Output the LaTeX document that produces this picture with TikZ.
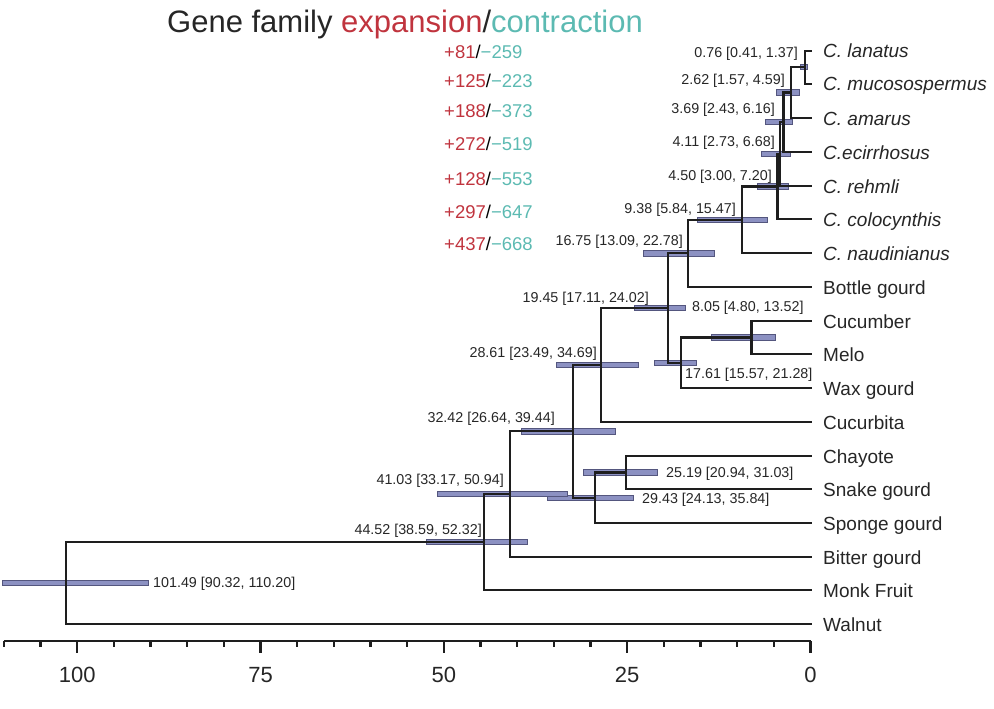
\documentclass[tikz,border=0pt]{standalone}
\usepackage{fontspec}
\setmainfont{Liberation Sans}
\definecolor{expred}{RGB}{192,52,62}
\definecolor{contteal}{RGB}{92,186,178}
\definecolor{barfill}{RGB}{140,145,194}
\definecolor{barline}{RGB}{84,86,126}
\definecolor{treeline}{RGB}{30,30,30}
\newcommand\tx[1]{810.5-7.333*#1}
\begin{document}
\begin{tikzpicture}[x=1pt,y=-1pt,
  branch/.style={draw=treeline, line width=2.2pt, line cap=rect},
  cibar/.style={fill=barfill, draw=barline, line width=0.8pt},
  blab/.style={font=\fontsize{14.3}{16}\selectfont, inner sep=0pt, text=black!85},
  taxon/.style={font=\fontsize{19}{22}\selectfont, anchor=base west, inner sep=0pt, text=black!85},
  expn/.style={font=\fontsize{18.5}{21}\selectfont, anchor=base west, inner sep=0pt},
  axlab/.style={font=\fontsize{22}{24}\selectfont, anchor=base, inner sep=0pt, text=black!85},
  axisline/.style={draw=treeline, line width=2.2pt}
]
\useasboundingbox (0,0) rectangle (994,709);

% title
\node[anchor=base west, inner sep=0pt, font=\fontsize{31}{35}\selectfont] (title) at (167,33)
  {\textcolor{black!85}{Gene family }\textcolor{expred}{expansion}\textcolor{black!85}{/}\textcolor{contteal}{contraction}};

% expansion / contraction numbers
\node[expn] (ec1) at (444,52+6.6) {\textcolor{expred}{+81}/\textcolor{contteal}{\char"2212 259}};
\node[expn] (ec2) at (444,81+6.6) {\textcolor{expred}{+125}/\textcolor{contteal}{\char"2212 223}};
\node[expn] (ec3) at (444,111+6.6) {\textcolor{expred}{+188}/\textcolor{contteal}{\char"2212 373}};
\node[expn] (ec4) at (444,144+6.6) {\textcolor{expred}{+272}/\textcolor{contteal}{\char"2212 519}};
\node[expn] (ec5) at (444,179+6.6) {\textcolor{expred}{+128}/\textcolor{contteal}{\char"2212 553}};
\node[expn] (ec6) at (444,212+6.6) {\textcolor{expred}{+297}/\textcolor{contteal}{\char"2212 647}};
\node[expn] (ec7) at (444,244+6.6) {\textcolor{expred}{+437}/\textcolor{contteal}{\char"2212 668}};

% tip end points and labels
\foreach \nm/\yy in {e1/51,e2/84,e3/118,e4/152,e5/186,e6/219,e7/253,e8/287,e9/321,e10/354,e11/388,e12/422,e13/456,e14/489,e15/523,e16/557,e17/590,e18/624}{
  \coordinate (\nm) at (810.5,\yy);
}
\node[taxon] (t1) at (823,51+7) {\textit{C. lanatus}};
\node[taxon] (t2) at (823,84+7) {\textit{C. mucosospermus}};
\node[taxon] (t3) at (823,118+7) {\textit{C. amarus}};
\node[taxon] (t4) at (823,152+7) {\textit{C.ecirrhosus}};
\node[taxon] (t5) at (823,186+7) {\textit{C. rehmli}};
\node[taxon] (t6) at (823,219+7) {\textit{C. colocynthis}};
\node[taxon] (t7) at (823,253+7) {\textit{C. naudinianus}};
\node[taxon] (t8) at (823,287+7) {Bottle gourd};
\node[taxon] (t9) at (823,321+7) {Cucumber};
\node[taxon] (t10) at (823,354+7) {Melo};
\node[taxon] (t11) at (823,388+7) {Wax gourd};
\node[taxon] (t12) at (823,422+7) {Cucurbita};
\node[taxon] (t13) at (823,456+7) {Chayote};
\node[taxon] (t14) at (823,489+7) {Snake gourd};
\node[taxon] (t15) at (823,523+7) {Sponge gourd};
\node[taxon] (t16) at (823,557+7) {Bitter gourd};
\node[taxon] (t17) at (823,590+7) {Monk Fruit};
\node[taxon] (t18) at (823,624+7) {Walnut};

% internal nodes
\coordinate (n076) at ({\tx{0.76}},67);
\coordinate (n262) at ({\tx{2.62}},92.5);
\coordinate (n369) at ({\tx{3.69}},122);
\coordinate (n411) at ({\tx{4.11}},154);
\coordinate (n450) at ({\tx{4.50}},186.5);
\coordinate (n938) at ({\tx{9.38}},219.7);
\coordinate (n1675) at ({\tx{16.75}},253.3);
\coordinate (n805) at ({\tx{8.05}},337.5);
\coordinate (n1761) at ({\tx{17.61}},362.7);
\coordinate (n1945) at ({\tx{19.45}},308);
\coordinate (n2861) at ({\tx{28.61}},365);
\coordinate (n2519) at ({\tx{25.19}},472.5);
\coordinate (n2943) at ({\tx{29.43}},497.7);
\coordinate (n3242) at ({\tx{32.42}},431.3);
\coordinate (n4103) at ({\tx{41.03}},494);
\coordinate (n4452) at ({\tx{44.52}},542);
\coordinate (n10149) at ({\tx{101.49}},583);

% confidence bars
\fill[cibar] ({\tx{0.41}},67-2.8) rectangle ({\tx{1.37}},67+2.8);
\fill[cibar] ({\tx{1.57}},92.5-2.8) rectangle ({\tx{4.59}},92.5+2.8);
\fill[cibar] ({\tx{2.43}},122-2.8) rectangle ({\tx{6.16}},122+2.8);
\fill[cibar] ({\tx{2.73}},154-2.8) rectangle ({\tx{6.68}},154+2.8);
\fill[cibar] ({\tx{3.00}},186.5-2.8) rectangle ({\tx{7.20}},186.5+2.8);
\fill[cibar] ({\tx{5.84}},219.7-2.8) rectangle ({\tx{15.47}},219.7+2.8);
\fill[cibar] ({\tx{13.09}},253.3-2.8) rectangle ({\tx{22.78}},253.3+2.8);
\fill[cibar] ({\tx{4.80}},337.5-2.8) rectangle ({\tx{13.52}},337.5+2.8);
\fill[cibar] ({\tx{15.57}},362.7-2.8) rectangle ({\tx{21.28}},362.7+2.8);
\fill[cibar] ({\tx{17.11}},308-2.8) rectangle ({\tx{24.02}},308+2.8);
\fill[cibar] ({\tx{23.49}},365-2.8) rectangle ({\tx{34.69}},365+2.8);
\fill[cibar] ({\tx{20.94}},472.5-2.8) rectangle ({\tx{31.03}},472.5+2.8);
\fill[cibar] ({\tx{24.13}},497.7-2.8) rectangle ({\tx{35.84}},497.7+2.8);
\fill[cibar] ({\tx{26.64}},431.3-2.8) rectangle ({\tx{39.44}},431.3+2.8);
\fill[cibar] ({\tx{33.17}},494-2.8) rectangle ({\tx{50.94}},494+2.8);
\fill[cibar] ({\tx{38.59}},542-2.8) rectangle ({\tx{52.32}},542+2.8);
\fill[cibar] ({\tx{90.32}},583-2.8) rectangle ({\tx{110.20}},583+2.8);

% branches
\draw[branch] (e1) -| (n076) |- (e2);
\draw[branch] (n076) -| (n262) |- (e3);
\draw[branch] (n262) -| (n369) |- (e4);
\draw[branch] (n369) -| (n411) |- (e5);
\draw[branch] (n411) -| (n450) |- (e6);
\draw[branch] (n450) -| (n938) |- (e7);
\draw[branch] (n938) -| (n1675) |- (e8);
\draw[branch] (e9) -| (n805) |- (e10);
\draw[branch] (n805) -| (n1761) |- (e11);
\draw[branch] (n1675) -| (n1945) |- (n1761);
\draw[branch] (n1945) -| (n2861) |- (e12);
\draw[branch] (e13) -| (n2519) |- (e14);
\draw[branch] (n2519) -| (n2943) |- (e15);
\draw[branch] (n2861) -| (n3242) |- (n2943);
\draw[branch] (n3242) -| (n4103) |- (e16);
\draw[branch] (n4103) -| (n4452) |- (e17);
\draw[branch] (n4452) -| (n10149) |- (e18);

% node age labels
\node[blab, anchor=base east] (l076) at (798,52.5+5.1) {0.76 [0.41, 1.37]};
\node[blab, anchor=base east] (l262) at (785,79+5.1) {2.62 [1.57, 4.59]};
\node[blab, anchor=base east] (l369) at (775,108+5.1) {3.69 [2.43, 6.16]};
\node[blab, anchor=base east] (l411) at (775,141+5.1) {4.11 [2.73, 6.68]};
\node[blab, anchor=base east] (l450) at (772,175+5.1) {4.50 [3.00, 7.20]};
\node[blab, anchor=base east] (l938) at (736,208+5.1) {9.38 [5.84, 15.47]};
\node[blab, anchor=base east] (l1675) at (683,240+5.1) {16.75 [13.09, 22.78]};
\node[blab, anchor=base east] (l1945) at (649,297+5.1) {19.45 [17.11, 24.02]};
\node[blab, anchor=base west] (l805) at (692,306+5.1) {8.05 [4.80, 13.52]};
\node[blab, anchor=base west] (l1761) at (685,373+5.1) {17.61 [15.57, 21.28]};
\node[blab, anchor=base east] (l2861) at (597,352+5.1) {28.61 [23.49, 34.69]};
\node[blab, anchor=base east] (l3242) at (555,417+5.1) {32.42 [26.64, 39.44]};
\node[blab, anchor=base west] (l2519) at (666,472+5.1) {25.19 [20.94, 31.03]};
\node[blab, anchor=base west] (l2943) at (642,498+5.1) {29.43 [24.13, 35.84]};
\node[blab, anchor=base east] (l4103) at (504,479+5.1) {41.03 [33.17, 50.94]};
\node[blab, anchor=base east] (l4452) at (482,529+5.1) {44.52 [38.59, 52.32]};
\node[blab, anchor=base west] (l10149) at (153,582+5.1) {101.49 [90.32, 110.20]};

% axis
\draw[axisline] ({\tx{110}},641) -- ({\tx{0}},641);
\foreach \t in {5,10,15,20,30,35,40,45,55,60,65,70,80,85,90,95,105,110}{
  \draw[axisline] ({\tx{\t}},641) -- ({\tx{\t}},647);
}
\foreach \t in {0,25,50,75,100}{
  \draw[axisline] ({\tx{\t}},641) -- ({\tx{\t}},653);
  \node[axlab] at ({\tx{\t}},682) {\t};
}
\end{tikzpicture}
\end{document}
